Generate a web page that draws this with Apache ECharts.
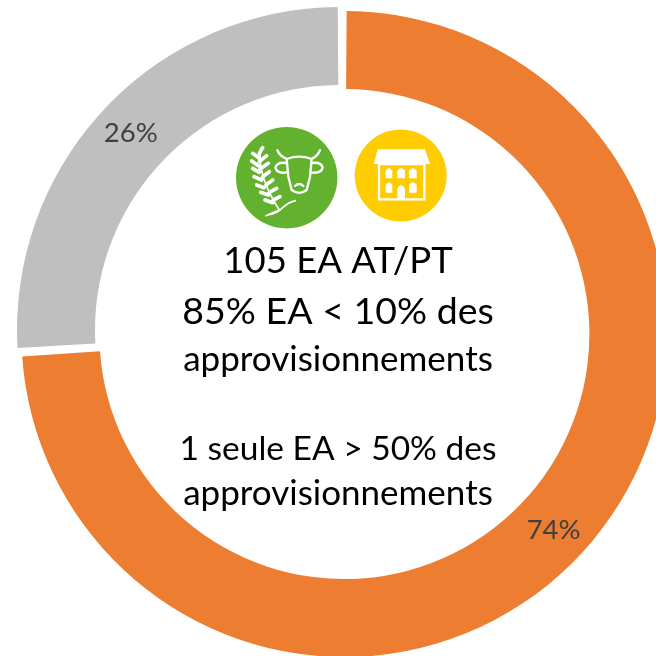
<!DOCTYPE html>
<html><head><meta charset="utf-8">
<style>html,body{margin:0;padding:0;background:#fff}#c{width:656px;height:656px}</style>
<script src="https://cdn.jsdelivr.net/npm/echarts@6/dist/echarts.min.js"></script>
</head><body><div id="c"></div>
<script>
const categories = ['Part A', 'Part B'];
const values = [74, 26];
const colors = ['#ED7D31', '#BFBFBF'];
const centerLines = [
  ['105 EA AT/PT', 261, 36.5],
  ['85% EA < 10% des', 312, 37.5],
  ['approvisionnements', 360, 35],
  ['1 seule EA > 50% des', 449, 33.5],
  ['approvisionnements', 494, 35]
];
function pathShape(name, d){
  echarts.graphic.registerShape(name, echarts.graphic.extendPath(d, {}));
}
pathShape('cowHead','M140 72 Q178 58 215 72 L210 125 L200 165 Q178 182 155 165 L145 125 Z');
pathShape('cowParts','M137 70 Q120 64 112 46 M218 70 Q232 64 240 46 M138 84 Q112 80 106 98 Q112 118 142 112 M216 84 Q244 80 248 98 Q242 118 212 112 M165 153 Q178 141 190 153');
pathShape('wheatStem','M62 40 Q50 120 118 225 Q95 234 78 242 M84 240 Q112 236 130 216 Q148 201 166 197');
pathShape('wheatLeaves','M38 55 L58 70 M35 78 L55 92 M38 100 L58 112 M42 125 L65 135 M50 150 L72 158 M62 172 L85 180 M75 195 L98 203 M68 38 L58 55 M80 62 L58 80 M85 85 L60 102 M88 110 L68 125 M98 135 L78 150 M110 160 L88 172 M120 185 L100 195');
pathShape('windows','M62 115 V92 Q72 76 82 92 V115 Z M97 115 V92 Q108 76 120 92 V115 Z M132 115 V92 Q143 76 155 92 V115 Z M62 158 V135 Q72 119 82 135 V158 Z M132 158 V135 Q143 119 155 135 V158 Z M97 178 V146 Q108 124 120 146 V178 Z');
const chart = echarts.init(document.getElementById('c'), null, {renderer:'canvas'});
const W = {stroke:'#fff', fill:'none', lineWidth:7, lineCap:'round', lineJoin:'round'};
chart.setOption({
  animation:false,
  series:[{
    type:'pie',
    center:[342.2,332],
    radius:[245,323],
    startAngle:90,
    clockwise:true,
    padAngle:0.8,
    selectedMode:'multiple',
    selectedOffset:3,
    avoidLabelOverlap:false,
    data:categories.map((n,i)=>({name:n,value:values[i],selected:true,itemStyle:{color:colors[i]}})),
    label:{show:true,position:'inside',formatter:'{c}%',color:'#404040',fontSize:27.5,fontFamily:'Lato'},
    labelLine:{show:false},
    emphasis:{disabled:true},
    select:{itemStyle:{}}
  }],
  graphic:[
    {type:'circle', shape:{cx:286.7,cy:177.7,r:50.7}, style:{fill:'#63B22F'}},
    {type:'circle', shape:{cx:400.7,cy:175.5,r:46}, style:{fill:'#FFCC00'}},
    {type:'group', x:240, y:135, scaleX:1/3, scaleY:1/3, children:[
      {type:'cowHead', style:W},
      {type:'cowParts', style:W},
      {type:'wheatStem', style:Object.assign({},W,{lineWidth:5})},
      {type:'wheatLeaves', style:Object.assign({},W,{lineWidth:11})}
    ]},
    {type:'group', x:365, y:140, scaleX:1/3, scaleY:1/3, children:[
      {type:'polygon', shape:{points:[[38,28],[180,28],[195,72],[26,72]]}, style:{fill:'#fff'}},
      {type:'rect', shape:{x:42,y:72,width:136,height:106}, style:{fill:'none',stroke:'#fff',lineWidth:7}},
      {type:'windows', style:{fill:'#fff'}}
    ]},
    ...centerLines.map(l=>({type:'text', x:338, y:l[1], style:{text:l[0],fontFamily:'Lato',fontSize:l[2],fill:'#000',align:'center',verticalAlign:'middle'}}))
  ]
});
</script></body></html>
